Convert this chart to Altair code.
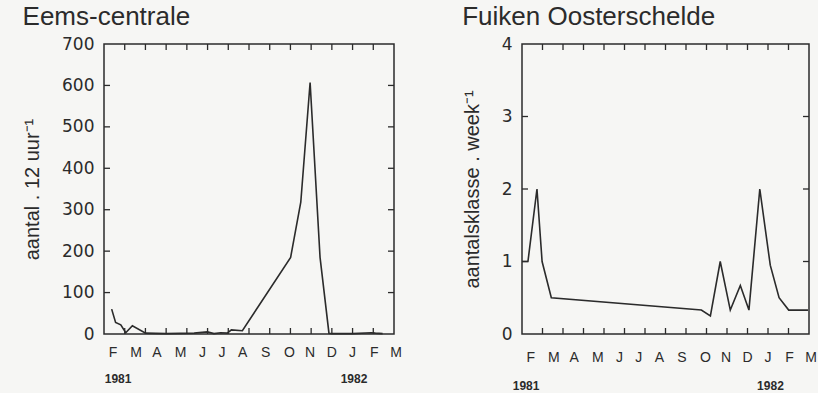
import altair as alt
import pandas as pd

# ---- data ----
eems_x = [0.37, 0.56, 0.81, 1.05, 1.37, 2.01, 3.0, 4.35, 4.99, 5.31, 5.63, 5.95, 6.15, 6.68,
          9.01, 9.5, 9.95, 10.43, 10.86, 11.0, 12.0, 12.9, 13.1, 13.45]
eems_y = [60, 28, 22, 3, 20, 2, 1, 2, 5, 1, 3, 2, 10, 8,
          185, 318, 607, 185, 2, 1, 1, 3, 2, 1]

fuiken_x = [0, 0.29, 0.73, 0.98, 1.43, 8.75, 9.19, 9.67, 10.16, 10.65, 11.07, 11.6,
            12.11, 12.54, 13.01, 13.95]
fuiken_y = [1.0, 1.0, 2.0, 1.0, 0.5, 0.33, 0.25, 1.0, 0.33, 0.67, 0.33, 2.0,
            0.95, 0.5, 0.33, 0.33]

month_labels = ["F", "M", "A", "M", "J", "J", "A", "S", "O", "N", "D", "J", "F", "M"]
month_pos = [0.43, 1.55, 2.55, 3.7, 4.75, 5.7, 6.7, 7.8, 8.95, 9.95, 11.0, 12.0, 13.05, 14.1]
month_ticks = [1, 2, 3, 4, 5, 6, 7, 8, 9, 10, 11, 12, 13]

year_labels = ["1981", "1982"]
eems_year_pos = [0.68, 12.07]
fuiken_year_pos = [0.2, 12.12]

eems_yticks = [0, 100, 200, 300, 400, 500, 600, 700]
fuiken_yticks = [0, 1, 2, 3, 4]

INK = "#2b2b2b"
BG = "#f6f6f4"
TICK = 6


def panel(title, xs, ys, yticks, ytitle, W, H, month_dy, year_pos, year_dy):
    xscale = alt.Scale(domain=[0, 14], nice=False, zero=False)
    yscale = alt.Scale(domain=[yticks[0], yticks[-1]], nice=False, zero=False)
    line_df = pd.DataFrame({"x": xs, "y": ys})
    line = alt.Chart(line_df).mark_line(color=INK, strokeWidth=1.6).encode(
        x=alt.X("x:Q", scale=xscale, axis=None),
        y=alt.Y("y:Q", scale=yscale, title=ytitle,
                axis=alt.Axis(values=yticks, ticks=False, domain=False, grid=False,
                              labelFont="DejaVu Sans", labelFontSize=17, labelColor=INK,
                              labelPadding=10, titleFont="Liberation Sans",
                              titleFontSize=20, titleFontWeight="normal",
                              titleColor=INK, titlePadding=19)),
    )
    xt = pd.DataFrame({"t": month_ticks})
    xt_bottom = alt.Chart(xt).mark_rule(color=INK, strokeWidth=1.3).encode(
        x=alt.X("t:Q", scale=xscale, axis=None),
        y=alt.value(H), y2=alt.value(H - TICK))
    xt_top = alt.Chart(xt).mark_rule(color=INK, strokeWidth=1.3).encode(
        x=alt.X("t:Q", scale=xscale, axis=None),
        y=alt.value(0), y2=alt.value(TICK))
    yt = pd.DataFrame({"v": yticks[1:-1]})
    yt_left = alt.Chart(yt).mark_rule(color=INK, strokeWidth=1.3).encode(
        y=alt.Y("v:Q", scale=yscale, axis=None),
        x=alt.value(0), x2=alt.value(TICK))
    yt_right = alt.Chart(yt).mark_rule(color=INK, strokeWidth=1.3).encode(
        y=alt.Y("v:Q", scale=yscale, axis=None),
        x=alt.value(W), x2=alt.value(W - TICK))
    months = alt.Chart(pd.DataFrame({"p": month_pos, "m": month_labels})).mark_text(
        font="Liberation Sans", fontSize=14, color=INK, baseline="middle", align="center"
    ).encode(x=alt.X("p:Q", scale=xscale, axis=None), y=alt.value(H + month_dy), text="m:N")
    years = alt.Chart(pd.DataFrame({"p": year_pos, "yr": year_labels})).mark_text(
        font="Liberation Sans", fontSize=12, fontWeight="bold", color=INK,
        baseline="middle", align="center"
    ).encode(x=alt.X("p:Q", scale=xscale, axis=None), y=alt.value(H + year_dy), text="yr:N")
    return alt.layer(line, xt_bottom, xt_top, yt_left, yt_right, months, years).resolve_axis(
        x="independent", y="independent"
    ).properties(
        width=W, height=H,
        title=alt.TitleParams(title, anchor="start", font="Liberation Sans", fontSize=26,
                              fontWeight="normal", color=INK, offset=5),
    )


left = panel("Eems-centrale", eems_x, eems_y, eems_yticks, "aantal . 12 uur⁻¹",
             290, 290, 19, eems_year_pos, 45)
right = panel("Fuiken Oosterschelde", fuiken_x, fuiken_y, fuiken_yticks,
              "aantalsklasse . week⁻¹", 287, 290, 24, fuiken_year_pos, 52)

chart = alt.hconcat(left, right, spacing=58).configure_view(
    stroke=INK, strokeWidth=1.5
).properties(background=BG, padding={"left": 21, "top": 3, "right": 0, "bottom": 0})

chart.save("out.html", embed_options={"renderer": "svg", "actions": False})
